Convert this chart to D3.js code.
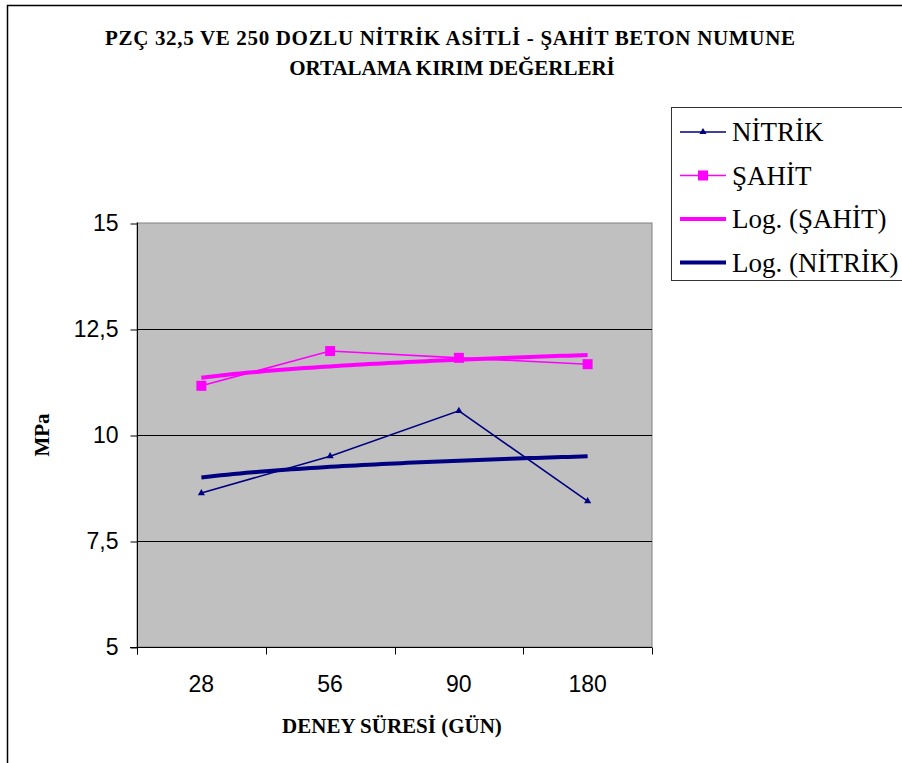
<!DOCTYPE html>
<html>
<head>
<meta charset="utf-8">
<script src="https://cdn.jsdelivr.net/npm/d3@7"></script>
<style>
  body { margin: 0; background: #fff; }
  svg { display: block; }
</style>
</head>
<body>
<svg id="chart" width="902" height="763"></svg>
<script>
// chart values
var days = ['28', '56', '90', '180']
var nitrik = [8.63, 9.50, 10.57, 8.44]
var sahit = [11.16, 11.98, 11.82, 11.67]
var yTicks = [5, 7.5, 10, 12.5, 15]

var navy = '#000080'
var pink = '#FF00FF'

var svg = d3.select('#chart')

// outer chart border (cut off at right / bottom)
svg.append('path')
    .attr('d', 'M7.5,770 V5.5 H910')
    .attr('fill', 'none')
    .attr('stroke', '#000')
    .attr('stroke-width', 1.5)

var plot = { left: 137, right: 652, top: 223, bottom: 647 }

var x = d3.scaleBand()
    .domain(days)
    .range([plot.left, plot.right])
var y = d3.scaleLinear()
    .domain([5, 15])
    .range([plot.bottom, plot.top])

// plot background
svg.append('rect')
    .attr('x', plot.left).attr('y', plot.top)
    .attr('width', plot.right - plot.left).attr('height', plot.bottom - plot.top)
    .attr('fill', '#C0C0C0')
    .attr('stroke', '#808080')
    .attr('stroke-width', 1)

// gridlines
svg.selectAll('.grid')
    .data([7.5, 10, 12.5])
    .enter()
    .append('line')
        .attr('x1', plot.left).attr('x2', plot.right)
        .attr('y1', function(d) { return y(d) + 0.5 })
        .attr('y2', function(d) { return y(d) + 0.5 })
        .attr('stroke', '#000')
        .attr('stroke-width', 1)

// y axis
var yAxis = d3.axisLeft(y)
    .tickValues(yTicks)
    .tickSize(7)
    .tickPadding(12)
    .tickFormat(function(d) { return String(d).replace('.', ',') })
var gy = svg.append('g')
    .attr('transform', 'translate(' + (plot.left + 0.5) + ',0.5)')
    .call(yAxis)
gy.select('.domain').attr('d', 'M0,' + (plot.top - 1) + 'V' + (plot.bottom + 7))
gy.selectAll('text')
    .attr('font-family', 'Liberation Sans, Arial, sans-serif')
    .attr('font-size', 23)
    .attr('fill', '#000')

// x axis: ticks sit between categories
var xAxis = d3.axisBottom(x)
    .tickSize(0)
    .tickPadding(28)
var gx = svg.append('g')
    .attr('transform', 'translate(0,' + (plot.bottom + 0.5) + ')')
    .call(xAxis)
gx.select('.domain').attr('d', 'M' + (plot.left - 7) + ',0H' + plot.right)
gx.selectAll('text')
    .attr('font-family', 'Liberation Sans, Arial, sans-serif')
    .attr('font-size', 23)
    .attr('fill', '#000')
var edges = days.map(function(d) { return x(d) }).concat([plot.right])
gx.selectAll('.sep')
    .data(edges)
    .enter()
    .append('line')
        .attr('x1', function(d) { return Math.round(d) + 0.5 })
        .attr('x2', function(d) { return Math.round(d) + 0.5 })
        .attr('y1', 0).attr('y2', 7)
        .attr('stroke', '#000')

function cx(d, i) { return x(days[i]) + x.bandwidth() / 2 }

// logarithmic trendline, least squares on ln(index)
function logFit(vals) {
    var lx = vals.map(function(v, i) { return Math.log(i + 1) })
    var mx = d3.mean(lx), my = d3.mean(vals)
    var sxy = d3.sum(vals, function(v, i) { return (lx[i] - mx) * (v - my) })
    var sxx = d3.sum(lx, function(v) { return (v - mx) * (v - mx) })
    var a = sxy / sxx
    return { a: a, b: my - a * mx }
}
function trendPoints(vals) {
    var f = logFit(vals)
    return d3.range(1, 4.001, 0.05).map(function(t) {
        var px = x(days[0]) + x.bandwidth() / 2 + (t - 1) * x.step()
        return [px, y(f.a * Math.log(t) + f.b)]
    })
}

var line = d3.line()

svg.append('path')
    .attr('d', line(trendPoints(sahit)))
    .attr('fill', 'none').attr('stroke', pink).attr('stroke-width', 4)
svg.append('path')
    .attr('d', line(trendPoints(nitrik)))
    .attr('fill', 'none').attr('stroke', navy).attr('stroke-width', 4)

var seriesLine = d3.line()
    .x(cx)
    .y(function(d) { return y(d) })

svg.append('path')
    .attr('d', seriesLine(sahit))
    .attr('fill', 'none').attr('stroke', pink).attr('stroke-width', 1.6)
svg.append('path')
    .attr('d', seriesLine(nitrik))
    .attr('fill', 'none').attr('stroke', navy).attr('stroke-width', 1.6)

svg.selectAll('.sq')
    .data(sahit)
    .enter()
    .append('rect')
        .attr('x', function(d, i) { return cx(d, i) - 5 })
        .attr('y', function(d) { return y(d) - 5 })
        .attr('width', 10).attr('height', 10)
        .attr('fill', pink)

var tri = d3.symbol().type(d3.symbolTriangle).size(22)
svg.selectAll('.tri')
    .data(nitrik)
    .enter()
    .append('path')
        .attr('d', tri)
        .attr('transform', function(d, i) { return 'translate(' + cx(d, i) + ',' + y(d) + ')' })
        .attr('fill', navy)

// titles
var serif = '"Liberation Serif", "Times New Roman", serif'
var title = svg.append('text')
    .attr('text-anchor', 'middle')
    .attr('font-family', serif)
    .attr('font-weight', 'bold')
    .attr('font-size', 21)
title.append('tspan').attr('x', 450).attr('y', 45)
    .attr('textLength', 690)
    .attr('lengthAdjust', 'spacing')
    .text('PZÇ 32,5 VE 250 DOZLU  NİTRİK ASİTLİ - ŞAHİT BETON NUMUNE')
title.append('tspan').attr('x', 452).attr('y', 75)
    .text('ORTALAMA KIRIM DEĞERLERİ')

svg.append('text')
    .attr('transform', 'translate(49,435) rotate(-90)')
    .attr('text-anchor', 'middle')
    .attr('font-family', serif)
    .attr('font-weight', 'bold')
    .attr('font-size', 21)
    .text('MPa')

svg.append('text')
    .attr('x', 392).attr('y', 733)
    .attr('text-anchor', 'middle')
    .attr('font-family', serif)
    .attr('font-weight', 'bold')
    .attr('font-size', 21)
    .text('DENEY SÜRESİ (GÜN)')

// legend
var legendItems = [
    { name: 'NİTRİK', color: navy, width: 1.6, marker: 'tri' },
    { name: 'ŞAHİT', color: pink, width: 1.6, marker: 'sq' },
    { name: 'Log. (ŞAHİT)', color: pink, width: 4, marker: null },
    { name: 'Log. (NİTRİK)', color: navy, width: 4, marker: null }
]
var lg = svg.append('g').attr('transform', 'translate(671,107)')
lg.append('rect')
    .attr('x', 0.5).attr('y', 0.5)
    .attr('width', 260).attr('height', 173)
    .attr('fill', '#fff').attr('stroke', '#333').attr('stroke-width', 1)
var rows = lg.selectAll('.row')
    .data(legendItems)
    .enter()
    .append('g')
        .attr('transform', function(d, i) { return 'translate(0,' + (25 + i * 43.5) + ')' })
rows.append('line')
    .attr('x1', 9).attr('x2', 55)
    .attr('stroke', function(d) { return d.color })
    .attr('stroke-width', function(d) { return d.width })
rows.filter(function(d) { return d.marker === 'sq' })
    .append('rect')
        .attr('x', 27).attr('y', -5).attr('width', 10).attr('height', 10)
        .attr('fill', pink)
rows.filter(function(d) { return d.marker === 'tri' })
    .append('path')
        .attr('d', tri)
        .attr('transform', 'translate(32,0)')
        .attr('fill', navy)
rows.append('text')
    .attr('x', 61).attr('y', 9)
    .attr('font-family', serif)
    .attr('font-size', 27)
    .text(function(d) { return d.name })
</script>
</body>
</html>
